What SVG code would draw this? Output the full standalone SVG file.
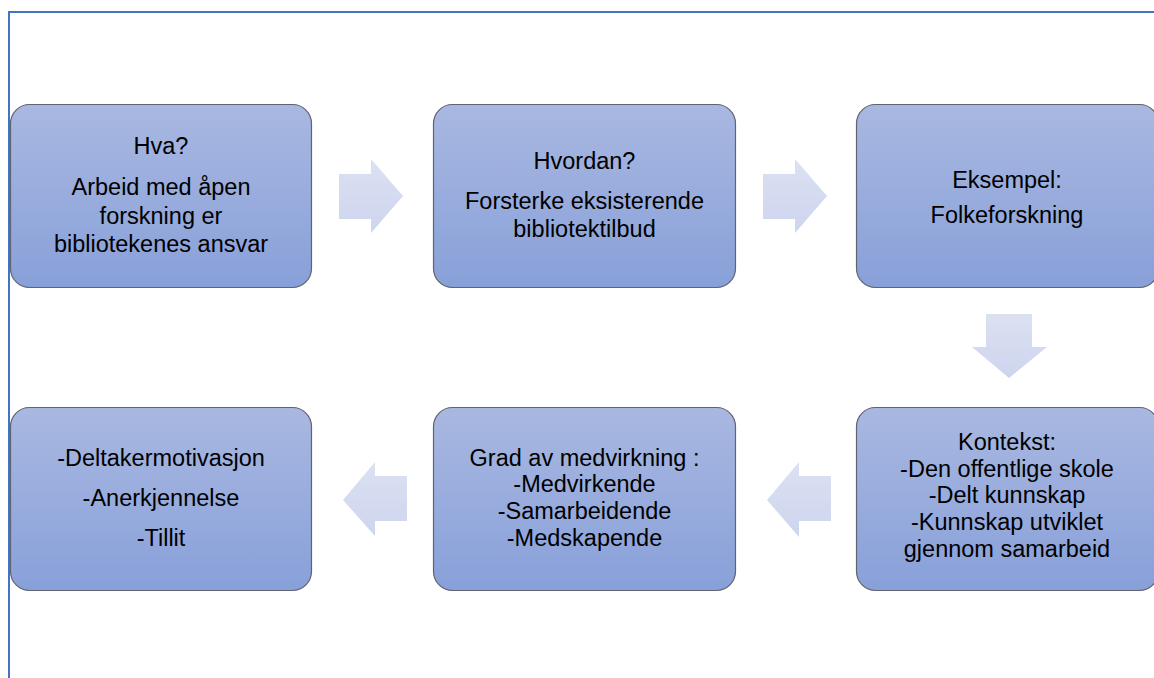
<svg xmlns="http://www.w3.org/2000/svg" width="1154" height="678" viewBox="0 0 1154 678">
<style>
.box{fill:url(#bg);stroke:#5f6470;stroke-width:1.2}
.arr{fill:url(#ag)}
text{font-family:"Liberation Sans",Arial,sans-serif;font-size:23.5px;fill:#000;text-anchor:middle}
</style>
<defs>
<linearGradient id="bg" x1="0" y1="0" x2="0" y2="1">
<stop offset="0" stop-color="#A9B8E1"/>
<stop offset="1" stop-color="#88A0D9"/>
</linearGradient>
<linearGradient id="ag" x1="0" y1="0" x2="0" y2="1">
<stop offset="0" stop-color="#DCE1F2"/>
<stop offset="1" stop-color="#CDD5EE"/>
</linearGradient>
</defs>
<rect width="1154" height="678" fill="#fff"/>
<g id="frame" stroke="#4472C4" stroke-width="2" fill="none">
<line x1="8" y1="12" x2="1154" y2="12"/>
<line x1="9" y1="11" x2="9" y2="678"/>
</g>
<g id="connectors">
<polygon class="arr" points="339,174 371,174 371,159 403,196 371,233 371,219 339,219"/>
<polygon class="arr" points="763,174 795,174 795,159 827,196 795,233 795,219 763,219"/>
<polygon class="arr" points="986,314 1032,314 1032,347 1047,347 1009,378 972,347 986,347"/>
<polygon class="arr" points="831,476 799,476 799,462 767,500 799,537 799,521 831,521"/>
<polygon class="arr" points="407,476 375,476 375,462 343,500 375,536 375,521 407,521"/>
</g>
<g id="n1">
<rect class="box" x="10.5" y="104.5" width="301" height="183" rx="19"/>
<text x="161" y="154">Hva?</text>
<text x="161" y="195">Arbeid med åpen</text>
<text x="161" y="224">forskning er</text>
<text x="161" y="252">bibliotekenes ansvar</text>
</g>
<g id="n2">
<rect class="box" x="433.5" y="104.5" width="302" height="183" rx="19"/>
<text x="584.5" y="169">Hvordan?</text>
<text x="584.5" y="209">Forsterke eksisterende</text>
<text x="584.5" y="237">bibliotektilbud</text>
</g>
<g id="n3">
<rect class="box" x="856.5" y="104.5" width="302" height="183" rx="19"/>
<text x="1007" y="188">Eksempel:</text>
<text x="1007" y="223">Folkeforskning</text>
</g>
<g id="n4">
<rect class="box" x="856.5" y="407.5" width="302" height="183" rx="19"/>
<text x="1007" y="450">Kontekst:</text>
<text x="1007" y="477">-Den offentlige skole</text>
<text x="1007" y="503">-Delt kunnskap</text>
<text x="1007" y="530">-Kunnskap utviklet</text>
<text x="1007" y="557">gjennom samarbeid</text>
</g>
<g id="n5">
<rect class="box" x="433.5" y="407.5" width="302" height="183" rx="19"/>
<text x="584.5" y="466">Grad av medvirkning :</text>
<text x="584.5" y="492">-Medvirkende</text>
<text x="584.5" y="519">-Samarbeidende</text>
<text x="584.5" y="546">-Medskapende</text>
</g>
<g id="n6">
<rect class="box" x="10.5" y="407.5" width="301" height="183" rx="19"/>
<text x="161" y="466">-Deltakermotivasjon</text>
<text x="161" y="506">-Anerkjennelse</text>
<text x="161" y="546">-Tillit</text>
</g>
</svg>
